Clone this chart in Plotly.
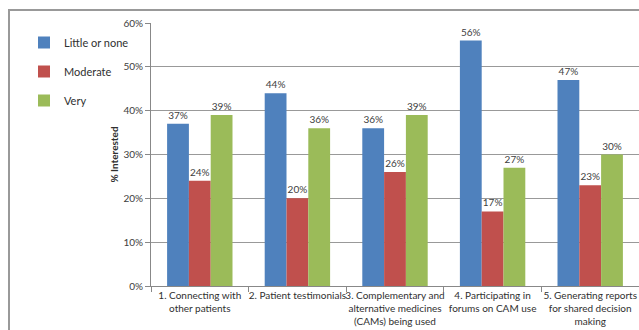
import plotly.graph_objects as go

categories = [
    "1. Connecting with<br>other patients",
    "2. Patient testimonials",
    "3. Complementary and<br>alternative medicines<br>(CAMs) being used",
    "4. Participating in<br>forums on CAM use",
    "5. Generating reports<br>for shared decision<br>making",
]
little = [37, 44, 36, 56, 47]
moderate = [24, 20, 26, 17, 23]
very = [39, 36, 39, 27, 30]
series_names = ["Little or none", "Moderate", "Very"]
colors = ["#4F81BD", "#C0504D", "#9BBB59"]

W, H = 639, 330
L, R, T, B = 151, 0, 23, 44

fig = go.Figure()
for i, (name, vals) in enumerate(zip(series_names, [little, moderate, very])):
    fig.add_trace(go.Bar(
        x=categories, y=vals, name=name,
        marker=dict(color=colors[i], line=dict(width=0)),
        text=[f"{v}%" for v in vals], textposition="outside",
        textfont=dict(size=10, color="#404040"),
        cliponaxis=False, legendgroup=name,
    ))

pw = W - L - R
ph = H - T - B
def px_x(p):
    return (p - L) / pw
def px_y(p):
    return (H - B - p) / ph

fig.update_layout(
    width=W, height=H,
    margin=dict(l=L, r=R, t=T, b=B, autoexpand=False),
    paper_bgcolor="white", plot_bgcolor="white",
    font=dict(family="Lato, Liberation Sans, sans-serif", size=11, color="#404040"),
    barmode="group", bargap=0.33, bargroupgap=0,
    showlegend=True,
    legend=dict(x=px_x(24), y=px_y(28), xanchor="left", yanchor="top",
                font=dict(size=11, color="#303030"), tracegroupgap=10,
                itemwidth=30, bgcolor="rgba(0,0,0,0)"),
    xaxis=dict(showline=True, linecolor="#888888", ticks="outside",
               tickson="boundaries", ticklen=5, tickcolor="#888888",
               tickangle=0, automargin=False,
               tickfont=dict(size=10, color="#303030"), showgrid=False),
    yaxis=dict(range=[0, 60], dtick=10, ticksuffix="%", showline=True,
               linecolor="#888888", ticks="outside", ticklen=5,
               tickcolor="#888888", gridcolor="#999999", gridwidth=1,
               automargin=False,
               tickfont=dict(size=10, color="#404040"),
               title=dict(text="<b>% Interested</b>", font=dict(size=10, color="#303030"),
                          standoff=2),
               zeroline=False),
    shapes=[dict(type="rect", xref="paper", yref="paper",
                 x0=px_x(9), x1=px_x(W + 20), y0=px_y(H + 20), y1=px_y(10),
                 line=dict(color="#999999", width=2), fillcolor="rgba(0,0,0,0)",
                 layer="below")],
)

fig.write_html("out.html")
